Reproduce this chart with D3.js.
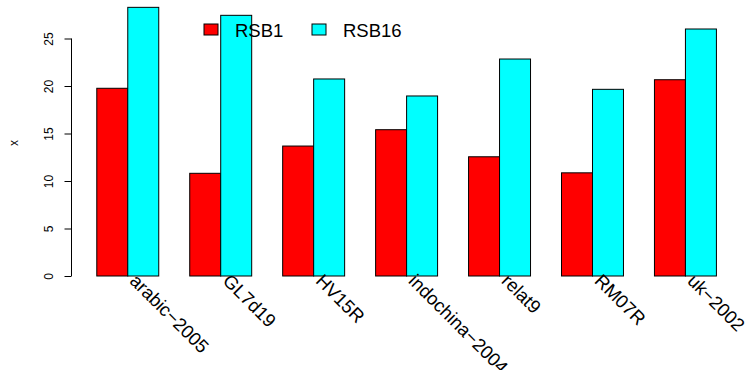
<!DOCTYPE html>
<html><head><meta charset="utf-8">
<script src="https://cdn.jsdelivr.net/npm/d3@7"></script>
<style>body{margin:0;background:#fff}svg{display:block;font-family:"Liberation Sans",Arial,sans-serif}</style>
</head><body><svg id="c" width="748" height="370"></svg>
<script>
const categories = ["arabic−2005","GL7d19","HV15R","indochina−2004","relat9","RM07R","uk−2002"];
const seriesNames = ["RSB1","RSB16"];
const rsb1 = [19.76, 10.81, 13.68, 15.4, 12.55, 10.86, 20.66];
const rsb16 = [28.28, 27.44, 20.74, 18.95, 22.84, 19.65, 26.0];
const colors = ["#ff0000","#00ffff"];
const yTicks = [0,5,10,15,20,25];

const svg = d3.select("#c");
const x = d3.scaleLinear().domain([0.2, 21.8]).range([72, 741.2]);
const y = d3.scaleLinear().domain([0, 25]).range([276, 38.5]);

const series = [rsb1, rsb16];
series.forEach((vals, s) => {
  svg.append("g").selectAll("rect").data(vals).join("rect")
    .attr("x", (d,i) => x(1 + 3*i + s))
    .attr("width", (d,i) => x(2 + 3*i + s) - x(1 + 3*i + s))
    .attr("y", d => y(d))
    .attr("height", d => y(0) - y(d))
    .attr("fill", colors[s]).attr("stroke", "#000").attr("stroke-width", 1);
});

// y axis
const ax = svg.append("g").attr("transform", "translate(71.5,0)")
  .call(d3.axisLeft(y).tickValues(yTicks).tickSize(7).tickPadding(0).tickFormat(d3.format("d")));
ax.select(".domain").attr("d", `M0,${y(0)}V${y(25)}`).attr("stroke","#000");
ax.selectAll(".tick line").attr("stroke","#000");
ax.selectAll(".tick text").attr("fill","#000").attr("font-size", 12)
  .attr("transform", "rotate(-90)").attr("x", 0).attr("y", -19).attr("dy", 0)
  .attr("text-anchor","middle");
ax.attr("font-family", null);

// y label
svg.append("text").attr("transform","translate(18,143) rotate(-90)")
  .attr("text-anchor","middle").attr("font-size",12).text("x");

// category labels
svg.append("g").selectAll("text").data(categories).join("text")
  .attr("transform", (d,i) => `translate(${x(2+3*i) + 1},${282}) rotate(45)`)
  .attr("font-size", 18.5).attr("text-anchor","start").text(d => d);

// legend
const leg = svg.append("g");
const legX = [204, 312];
seriesNames.forEach((n, s) => {
  leg.append("rect").attr("x", legX[s]).attr("y", 24).attr("width", 14).attr("height", 11)
    .attr("fill", colors[s]).attr("stroke","#000").attr("stroke-width",1);
  leg.append("text").attr("x", legX[s] + 31).attr("y", 37.3).attr("font-size", 18.5).text(n);
});
</script></body></html>
